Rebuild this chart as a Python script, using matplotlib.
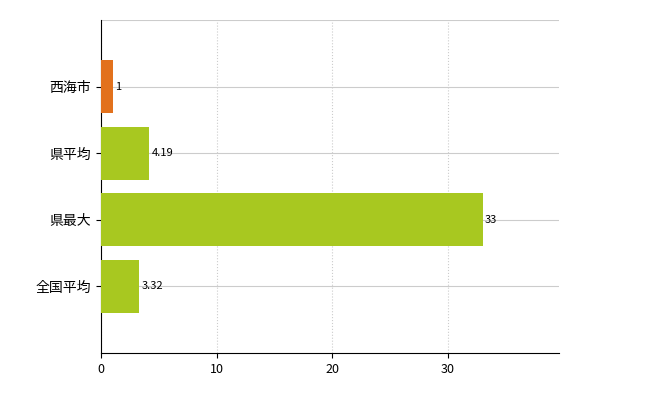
import matplotlib.pyplot as plt

plt.rcParams['font.family'] = ['Noto Sans CJK JP', 'DejaVu Sans']

labels = ['西海市', '県平均', '県最大', '全国平均']
values = [1, 4.19, 33, 3.32]
value_text = ['1', '4.19', '33', '3.32']
colors = ['#E2711D', '#A8C820', '#A8C820', '#A8C820']

fig = plt.figure(figsize=(6.5, 4), dpi=100)
ax = fig.add_axes([101 / 650, 47 / 400, 458 / 650, 333 / 400])

pos = [4, 3, 2, 1]
ax.barh(pos, values, height=0.8, color=colors, zorder=3)
for p, v, t in zip(pos, values, value_text):
    ax.text(v + 0.2, p, t, va='center', ha='left', fontsize=8, zorder=4)

ax.set_xlim(0, 39.6)
ax.set_ylim(0, 5)
ax.set_xticks([0, 10, 20, 30])
ax.set_yticks(pos)
ax.set_yticklabels(labels, fontsize=10)
ax.tick_params(axis='x', labelsize=9)
ax.set_yticks([5], minor=True)
ax.grid(axis='x', color='#cccccc', linestyle=':', linewidth=0.8, zorder=0)
ax.grid(axis='y', which='both', color='#cccccc', linewidth=0.8, zorder=0)
ax.tick_params(axis='y', which='minor', length=0)
for s in ['top', 'right']:
    ax.spines[s].set_visible(False)

fig.savefig('out.png', dpi=100)
